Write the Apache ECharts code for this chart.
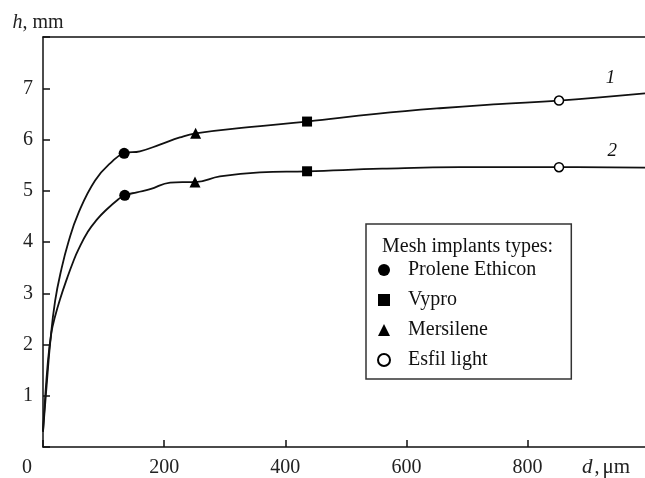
<!DOCTYPE html>
<html><head><meta charset="utf-8">
<script src="https://cdn.jsdelivr.net/npm/echarts@6/dist/echarts.min.js"></script>
<style>html,body{margin:0;padding:0;background:#fff;overflow:hidden}#c{width:645px;height:478px}</style>
</head><body><div id="c"></div>
<script>
// Curve 1 (upper) and curve 2 (lower): d (µm), h (mm)
var curve1 = [[0,0.3],[6,1.2],[12,2.05],[20,2.85],[30,3.45],[42,4.0],[58,4.55],[86,5.2],[114,5.57],[134,5.73],[160,5.77],[193,5.9],[226,6.04],[252,6.12],[340,6.24],[436,6.35],[550,6.5],[655,6.61],[752,6.69],[852,6.76],[994,6.9]];
var curve2 = [[0,0.3],[8,1.65],[14,2.24],[20,2.55],[28,2.88],[40,3.3],[50,3.62],[58,3.84],[74,4.2],[90,4.45],[102,4.6],[124,4.83],[135,4.91],[155,4.97],[177,5.03],[210,5.16],[230,5.17],[251,5.17],[292,5.28],[358,5.36],[436,5.38],[560,5.43],[688,5.46],[852,5.46],[994,5.45]];
// Marker points for mesh implant types
var prolene = [[134,5.73],[135,4.91]];
var vypro = [[436,6.35],[436,5.38]];
var mersilene = [[252,6.12],[251,5.17]];
var esfil = [[852,6.76],[852,5.46]];
var legendNames = ['Prolene Ethicon','Vypro','Mersilene','Esfil light'];
var curveLabels = [{name:'1', coord:[937,7.2]},{name:'2', coord:[940,5.78]}];
var xTicks = [0,200,400,600,800];
var yTicks = [1,2,3,4,5,6,7];
var xMax = 994;

var F = 'Liberation Serif';
var chart = echarts.init(document.getElementById('c'));
function lineSeries(data, lbl){
  return {type:'line', data:data, showSymbol:false, symbol:'none', smooth:0.45,
    lineStyle:{color:'#111', width:1.8}, z:2, silent:true,
    markPoint:{symbol:'circle', symbolSize:1, itemStyle:{color:'rgba(0,0,0,0)'},
      label:{show:true, formatter:lbl.name, color:'#111', fontFamily:F, fontStyle:'italic', fontSize:19},
      data:[{coord:lbl.coord}]}};
}
function scat(name, data, sym, size, fill){
  return {type:'scatter', name:name, data:data, symbol:sym, symbolSize:size, z:5,
    itemStyle:{color:fill, borderColor:'#000', borderWidth: fill==='#fff'?1.5:0, opacity:1}};
}
chart.setOption({
  animation:false,
  backgroundColor:'#fff',
  title:{text:'Mesh implants types:', left:377, top:232,
    textStyle:{fontFamily:F, fontSize:20, fontWeight:'normal', color:'#111'}},
  grid:{left:43, right:0, top:37, bottom:30, show:false},
  legend:{data:legendNames, orient:'vertical', left:366, top:224, itemWidth:12, itemHeight:12, itemGap:10,
    padding:[36,35,9,11], borderColor:'#333', borderWidth:1.5, backgroundColor:'#fff',
    textStyle:{fontFamily:F, fontSize:20, color:'#111', lineHeight:20, padding:[0,0,0,13]}},
  xAxis:[{type:'value', min:0, max:xMax, interval:200,
    axisLine:{lineStyle:{color:'#111', width:1.5}},
    axisTick:{inside:true, length:7, lineStyle:{color:'#111', width:1.5}},
    splitLine:{show:false},
    axisLabel:{margin:11, fontFamily:F, fontSize:20, color:'#222', showMaxLabel:false,
      formatter:function(v){ if(xTicks.indexOf(v)<0) return ''; return v===0 ? '{z|0}' : String(v); },
      rich:{z:{fontFamily:F, fontSize:20, color:'#222', padding:[0,32,0,0]}}},
    name:'{i|d},{s|μm}', nameLocation:'end', nameGap:-63,
    nameTextStyle:{fontFamily:F, fontSize:20, color:'#222', verticalAlign:'top', padding:[10,0,0,0],
      rich:{i:{fontFamily:F, fontSize:21, fontStyle:'italic', color:'#222', padding:[0,2,0,0]},
            s:{fontFamily:F, fontSize:21, color:'#222', padding:[0,0,0,3]}}}
  },{type:'value', position:'top', min:0, max:xMax,
    axisLine:{show:true, lineStyle:{color:'#111', width:1.5}},
    axisTick:{show:false}, axisLabel:{show:false}, splitLine:{show:false}}],
  yAxis:{type:'value', min:0, max:8, interval:1,
    axisLine:{lineStyle:{color:'#111', width:1.5}},
    axisTick:{inside:true, length:7, lineStyle:{color:'#111', width:1.5}},
    splitLine:{show:false},
    axisLabel:{margin:10, fontFamily:F, fontSize:20, color:'#222',
      formatter:function(v){ return yTicks.indexOf(v)<0 ? '' : String(v); }},
    name:'{i|h}, mm', nameLocation:'end', nameGap:4,
    nameTextStyle:{fontFamily:F, fontSize:20, color:'#222', padding:[0,10,0,0],
      rich:{i:{fontFamily:F, fontSize:20, fontStyle:'italic', color:'#222'}}}
  },
  series:[
    lineSeries(curve1, curveLabels[0]),
    lineSeries(curve2, curveLabels[1]),
    scat('Prolene Ethicon', prolene, 'circle', 11, '#000'),
    scat('Vypro', vypro, 'rect', 10, '#000'),
    scat('Mersilene', mersilene, 'triangle', 11, '#000'),
    scat('Esfil light', esfil, 'circle', 9, '#fff')
  ]
});
</script></body></html>
